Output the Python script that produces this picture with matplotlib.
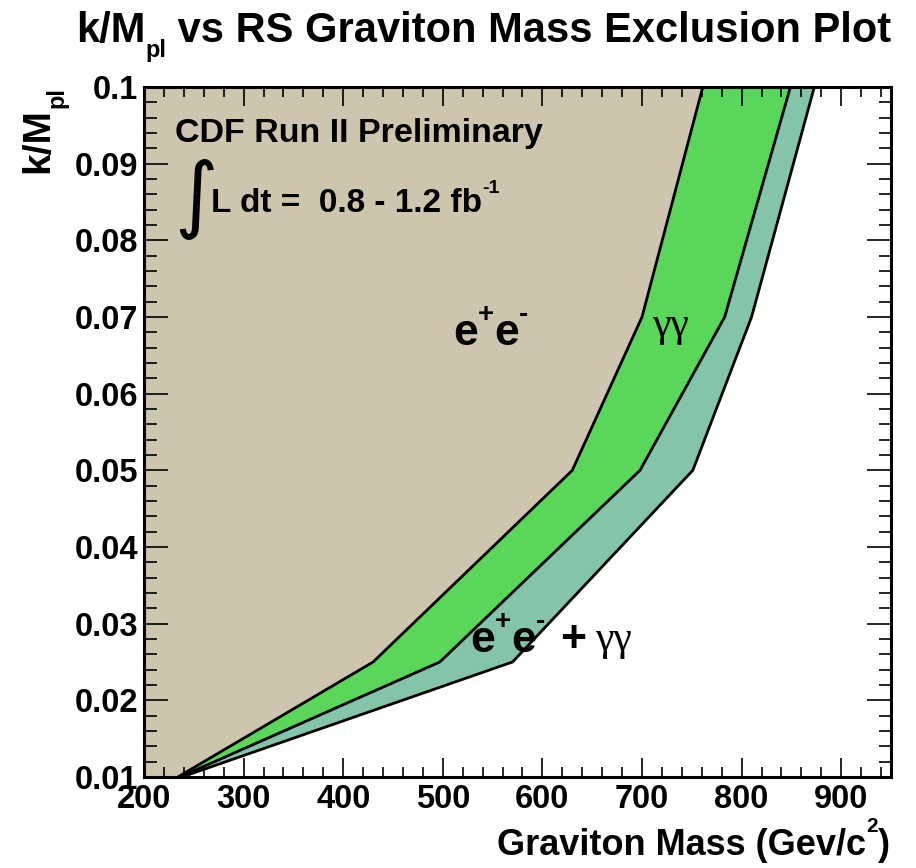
import matplotlib
matplotlib.use('Agg')
import matplotlib.pyplot as plt
from matplotlib.ticker import MultipleLocator, FixedLocator, FixedFormatter
from matplotlib.transforms import IdentityTransform

# ---------------- data ----------------
k_values = [0.01, 0.025, 0.05, 0.07, 0.10]
mass_ee = [234, 430, 630, 700, 761]      # e+e- exclusion boundary
mass_gg = [236, 497, 698, 783, 849]      # gamma-gamma exclusion boundary
mass_comb = [238, 570, 751, 810, 873]    # combined exclusion boundary

x_ticks = [200, 300, 400, 500, 600, 700, 800, 900]
x_tick_labels = ['200', '300', '400', '500', '600', '700', '800', '900']
y_ticks = [0.01, 0.02, 0.03, 0.04, 0.05, 0.06, 0.07, 0.08, 0.09, 0.1]
y_tick_labels = ['0.01', '0.02', '0.03', '0.04', '0.05', '0.06', '0.07', '0.08', '0.09', '0.1']

TAN = '#cdc5ae'
GREEN = '#5ad65a'
TEAL = '#84c4a8'

SANS = 'Liberation Sans'
SERIF = 'Liberation Serif'

W, H = 916, 868
fig = plt.figure(figsize=(W / 100, H / 100), dpi=100)
renderer = fig.canvas.get_renderer()

L, R, T, B = 144, 891, 87, 777
ax = fig.add_axes([L / W, 1 - B / H, (R - L) / W, (B - T) / H])
ax.set_xlim(200, 950)
ax.set_ylim(0.01, 0.1)

for masses, color in [(mass_comb, TEAL), (mass_gg, GREEN), (mass_ee, TAN)]:
    xs = [200] + masses + [200]
    ys = [k_values[0]] + k_values + [k_values[-1]]
    ax.fill(xs, ys, color=color, lw=0, zorder=1)
for masses in (mass_comb, mass_gg, mass_ee):
    ax.plot(masses, k_values, color='black', lw=2.0, zorder=2,
            solid_joinstyle='miter')

ax.xaxis.set_major_locator(FixedLocator(x_ticks))
ax.xaxis.set_major_formatter(FixedFormatter(x_tick_labels))
ax.xaxis.set_minor_locator(MultipleLocator(20))
ax.yaxis.set_major_locator(FixedLocator(y_ticks))
ax.yaxis.set_major_formatter(FixedFormatter(y_tick_labels))
ax.yaxis.set_minor_locator(MultipleLocator(0.002))
ax.set_axisbelow(False)
ax.tick_params(which='both', direction='in', top=True, right=True,
               width=1.2, color='black')
ax.tick_params(axis='x', which='major', length=13.7, pad=5)
ax.tick_params(axis='x', which='minor', length=7.2)
ax.tick_params(axis='y', which='major', length=17.3, pad=4.3)
ax.tick_params(axis='y', which='minor', length=9)
for lab in ax.get_xticklabels() + ax.get_yticklabels():
    lab.set_fontfamily(SANS)
    lab.set_fontweight('bold')
    lab.set_fontsize(23.5)
for sp in ax.spines.values():
    sp.set_linewidth(2.2)
    sp.set_zorder(5)


def chain(pieces, x, ybase, rotate=False):
    """pieces: (text, size, dy_px, family). Positions in pixels from top-left."""
    texts = []
    for s, size, dy, fam in pieces:
        if not rotate:
            t = fig.text(x, H - (ybase + dy), s, fontsize=size, ha='left',
                         va='baseline', fontweight='bold', family=fam,
                         transform=IdentityTransform(), zorder=10)
            bb = t.get_window_extent(renderer)
            x = bb.x1
        else:
            t = fig.text(ybase + dy, H - x, s, fontsize=size, ha='left',
                         va='baseline', fontweight='bold', family=fam,
                         rotation=90, rotation_mode='anchor',
                         transform=IdentityTransform(), zorder=10)
            bb = t.get_window_extent(renderer)
            x = H - bb.y1
        texts.append(t)
    return texts, x


# title
chain([("k/M", 30, 0, SANS), ("pl", 17, 15, SANS),
       (" vs RS Graviton Mass Exclusion Plot", 30, 0, SANS)], 76, 42)

# y label (rotated)
chain([("k/M", 28, 0, SANS), ("pl", 17, 15, SANS)], 173, 48, rotate=True)

# x label, right aligned at x=890
texts, xend = chain([("Graviton Mass (Gev/c", 26, 0, SANS), ("2", 15, -23, SANS),
                     (")", 26, 0, SANS)], 400, 855)
shift = 890 - xend
for t in texts:
    px, py = t.get_position()
    t.set_position((px + shift, py))

# annotations
chain([("CDF Run II Preliminary", 24.5, 0, SANS)], 175, 142)
fig.text(174, H - 199, "\u222b", fontsize=60, ha='left', va='center',
         family='DejaVu Sans', transform=IdentityTransform(), zorder=10)
chain([("L dt =  0.8 - 1.2 fb", 24, 0, SANS), ("-1", 14, -19, SANS)], 211, 212)

chain([("e", 32, 0, SANS), ("+", 20, -23, SANS), ("e", 32, 0, SANS),
       ("-", 20, -23, SANS)], 453, 345)
fig.text(652, H - 336, "\u03b3\u03b3", fontsize=30, family=SERIF,
         ha='left', va='baseline', transform=IdentityTransform(), zorder=10)

chain([("e", 32, 0, SANS), ("+", 20, -23, SANS), ("e", 32, 0, SANS),
       ("-", 20, -23, SANS)], 470, 652)
fig.text(560, H - 652, "+", fontsize=32, family=SANS, fontweight='bold',
         ha='left', va='baseline', transform=IdentityTransform(), zorder=10)
fig.text(595, H - 650, "\u03b3\u03b3", fontsize=30, family=SERIF,
         ha='left', va='baseline', transform=IdentityTransform(), zorder=10)

fig.savefig('out.png', dpi=100)
